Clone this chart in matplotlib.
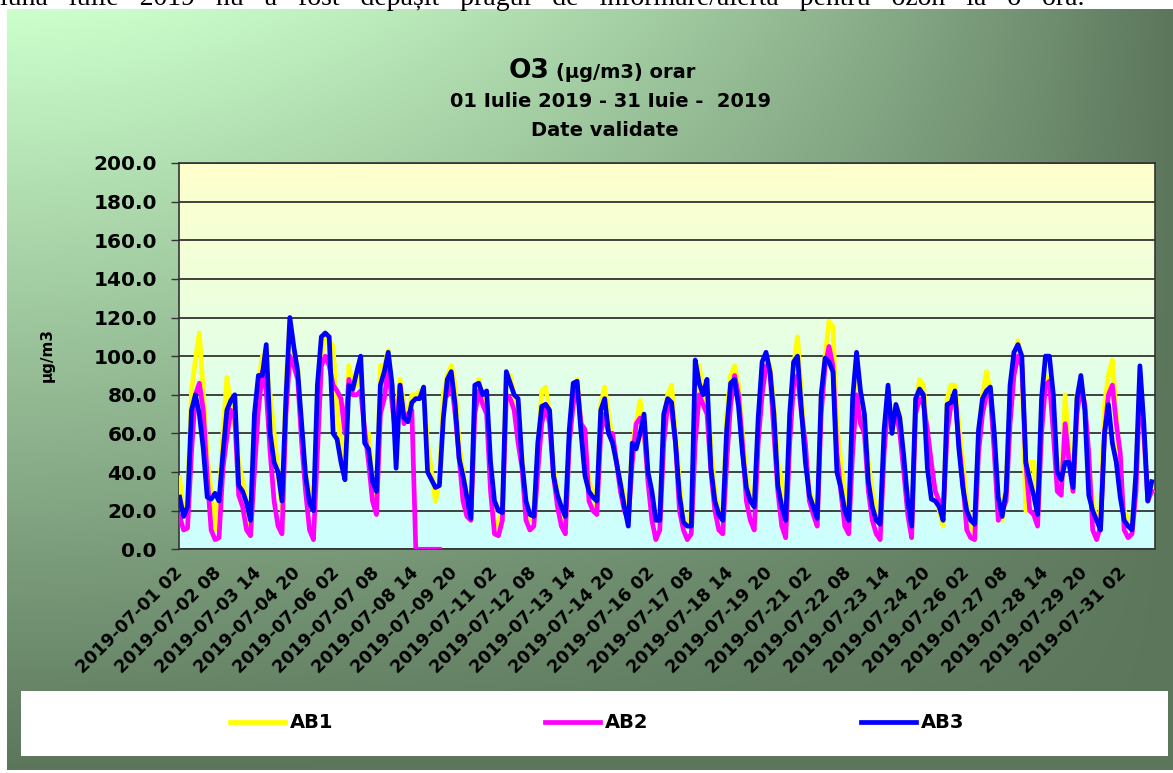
import numpy as np
import matplotlib.pyplot as plt
from matplotlib.colors import LinearSegmentedColormap, to_rgb
from matplotlib.patches import Rectangle

plt.rcParams['font.family'] = ['DejaVu Sans']
plt.rcParams['font.weight'] = 'bold'

# valori O3 citite la fiecare 3 ore (ora 02, 05, 08, 11, 14, 17, 20, 23), cate un rand pe zi
ab1 = [37, 18, 25, 82, 98, 112, 82, 48,
       30, 10, 27, 60, 89, 74, 64, 45,
       36, 25, 12, 68, 85, 100, 95, 80,
       60, 40, 20, 85, 118, 100, 95, 60,
       40, 30, 20, 70, 100, 110, 108, 105,
       70, 55, 45, 95, 85, 85, 95, 60,
       60, 35, 22, 95, 95, 103, 80, 70,
       88, 75, 68, 80, 80, 82, 82, 55,
       40, 25, 35, 80, 90, 95, 85, 55,
       40, 28, 15, 80, 88, 78, 80, 40,
       10, 15, 20, 90, 90, 80, 65, 48,
       20, 15, 20, 50, 82, 84, 70, 42,
       30, 20, 10, 55, 80, 88, 65, 55,
       35, 30, 22, 75, 84, 70, 55, 45,
       35, 28, 20, 55, 65, 77, 60, 40,
       25, 15, 20, 65, 80, 85, 60, 35,
       15, 12, 20, 70, 95, 82, 75, 55,
       30, 20, 15, 70, 90, 95, 85, 60,
       38, 28, 25, 60, 90, 100, 95, 75,
       45, 35, 15, 60, 95, 110, 80, 50,
       30, 25, 18, 80, 100, 118, 115, 65,
       45, 30, 20, 75, 90, 80, 65, 45,
       30, 20, 15, 55, 80, 65, 75, 70,
       45, 25, 10, 75, 88, 85, 60, 40,
       30, 20, 12, 78, 85, 85, 65, 45,
       25, 12, 8, 60, 80, 92, 82, 55,
       20, 15, 35, 75, 95, 108, 95, 20,
       45, 45, 20, 75, 90, 85, 75, 35,
       28, 80, 50, 30, 80, 88, 75, 45,
       25, 15, 20, 75, 90, 98, 70, 30,
       20, 15, 12, 40, 90, 60, 28, 30]

ab2 = [17, 10, 11, 50, 80, 86, 72, 38,
       10, 5, 6, 42, 58, 72, 68, 28,
       22, 10, 7, 40, 72, 92, 82, 50,
       25, 12, 8, 70, 100, 95, 88, 55,
       30, 10, 5, 50, 95, 100, 95, 85,
       82, 78, 60, 88, 80, 80, 82, 62,
       45, 25, 18, 70, 78, 95, 75, 58,
       85, 65, 70, 72, 0, 0, 0, 0,
       0, 0, 0, np.nan, 80, 88, 70, 48,
       25, 17, 15, 70, 82, 75, 70, 30,
       8, 7, 15, 80, 78, 72, 55, 42,
       15, 10, 12, 40, 65, 75, 65, 38,
       22, 12, 8, 55, 75, 85, 65, 62,
       25, 20, 18, 60, 70, 60, 60, 45,
       30, 20, 15, 45, 65, 68, 62, 35,
       15, 5, 10, 55, 75, 72, 55, 20,
       10, 5, 8, 55, 80, 75, 70, 40,
       20, 10, 8, 45, 75, 90, 80, 55,
       25, 15, 10, 55, 80, 95, 92, 60,
       30, 12, 6, 55, 85, 90, 70, 55,
       25, 18, 12, 70, 95, 105, 95, 50,
       30, 12, 8, 50, 80, 65, 60, 30,
       15, 8, 5, 50, 75, 65, 72, 60,
       40, 18, 6, 70, 78, 75, 62, 45,
       30, 25, 18, 60, 75, 80, 55, 35,
       10, 6, 5, 50, 70, 80, 80, 50,
       15, 20, 25, 65, 90, 100, 95, 45,
       20, 18, 12, 60, 85, 87, 60, 30,
       28, 65, 45, 30, 70, 85, 75, 50,
       10, 5, 12, 60, 80, 85, 65, 50,
       10, 6, 8, 30, 85, 60, 25, 30]

ab3 = [27, 17, 22, 72, 80, 70, 52, 27,
       26, 29, 25, 50, 72, 77, 80, 33,
       30, 24, 15, 70, 90, 90, 106, 60,
       45, 40, 25, 78, 120, 105, 92, 65,
       38, 24, 20, 85, 110, 112, 110, 60,
       57, 45, 36, 85, 83, 92, 100, 55,
       52, 35, 30, 85, 92, 102, 85, 42,
       85, 68, 66, 76, 78, 78, 84, 40,
       36, 32, 33, 68, 88, 92, 75, 47,
       38, 27, 16, 85, 86, 80, 82, 45,
       25, 20, 19, 92, 86, 80, 78, 45,
       25, 18, 17, 55, 74, 75, 72, 38,
       28, 22, 17, 62, 86, 87, 60, 38,
       30, 27, 25, 72, 78, 60, 55, 45,
       34, 22, 12, 55, 52, 60, 70, 40,
       30, 15, 15, 70, 78, 76, 55, 28,
       14, 12, 12, 98, 86, 80, 88, 42,
       25, 18, 15, 62, 86, 88, 74, 50,
       32, 25, 22, 68, 97, 102, 92, 70,
       33, 22, 15, 70, 97, 100, 72, 45,
       28, 22, 16, 80, 99, 97, 92, 40,
       32, 20, 15, 78, 102, 82, 70, 35,
       22, 15, 13, 62, 85, 60, 75, 68,
       48, 25, 12, 78, 83, 80, 42, 26,
       25, 22, 15, 75, 76, 82, 52, 32,
       20, 15, 13, 62, 78, 82, 84, 60,
       27, 17, 30, 85, 102, 106, 100, 45,
       36, 28, 18, 78, 100, 100, 80, 40,
       36, 45, 45, 32, 78, 90, 72, 28,
       20, 15, 10, 60, 75, 55, 45, 27,
       15, 12, 10, 40, 95, 65, 25, 35]

tick_labels = ['2019-07-01 02', '2019-07-02 08', '2019-07-03 14', '2019-07-04 20',
               '2019-07-06 02', '2019-07-07 08', '2019-07-08 14', '2019-07-09 20',
               '2019-07-11 02', '2019-07-12 08', '2019-07-13 14', '2019-07-14 20',
               '2019-07-16 02', '2019-07-17 08', '2019-07-18 14', '2019-07-19 20',
               '2019-07-21 02', '2019-07-22 08', '2019-07-23 14', '2019-07-24 20',
               '2019-07-26 02', '2019-07-27 08', '2019-07-28 14', '2019-07-29 20',
               '2019-07-31 02']

n_ore = 744
ore = np.arange(0, n_ore, 3)
W, H = 1173, 773

fig = plt.figure(figsize=(W / 100, H / 100), dpi=100)
fig.patch.set_facecolor('white')

# fundal verde in degrade
bg = fig.add_axes([7 / W, 3 / H, 1166 / W, 761 / H], zorder=-5)
u = np.linspace(0, 1, 400)[None, :]
v = np.linspace(0, 1, 300)[:, None]
t = 1 - (1 - v) * (1 - u ** 1.7)
c0, c1 = np.array(to_rgb('#ccffcc')), np.array(to_rgb('#5c765c'))
img = c0 + (c1 - c0) * t[..., None]
bg.imshow(img, aspect='auto', extent=[0, 1, 0, 1])
bg.axis('off')

# randul de text din pagina, taiat de marginea de sus
fig.text(0.0, 1 - 5 / H,
         '   '.join('luna iulie 2019 nu a fost depășit pragul de informare/alertă pentru ozon la o oră.'.split()),
         family='Liberation Serif', weight='normal', fontsize=20, va='baseline', ha='left')

ax = fig.add_axes([179 / W, 1 - 549.3 / H, 976 / W, 386.3 / H])
grad = LinearSegmentedColormap.from_list('zona', ['#ffffcc', '#ccffff'])
ax.imshow(np.linspace(0, 1, 256)[:, None], cmap=grad, aspect='auto',
          extent=[-0.5, n_ore - 0.5, 0, 200], zorder=0)

ax.plot(ore, ab1, color='#ffff00', lw=3.4, label='AB1', zorder=3)
ax.plot(ore, ab2, color='#ff00ff', lw=3.4, label='AB2', zorder=4)
ax.plot(ore, ab3, color='#0000ff', lw=3.4, label='AB3', zorder=5)

ax.set_xlim(-0.5, n_ore - 0.5)
ax.set_ylim(0, 200)
ax.set_yticks(np.arange(0, 201, 20))
ax.set_yticklabels([f'{y:.1f}' for y in np.arange(0, 201, 20)], fontsize=14.5, fontweight='bold')
ax.set_xticks(np.arange(0, n_ore, 30))
ax.set_xticklabels(tick_labels, rotation=45, ha='right', va='center',
                   rotation_mode='anchor', fontsize=12.5, fontweight='bold')
ax.tick_params(axis='x', length=0, pad=15)
ax.tick_params(axis='y', length=6, width=1, color='#333333', pad=10)
ax.grid(axis='y', color='#333333', lw=1.3, zorder=1)
ax.set_axisbelow(False)
for s in ax.spines.values():
    s.set_color('#333333')
    s.set_linewidth(1.2)

fig.text(47 / W, 1 - 355 / H, 'µg/m3', rotation=90, ha='center', va='center',
         fontsize=11, fontweight='bold')

# titlu
fig.text(549 / W, 1 - 78 / H, 'O3', ha='right', va='baseline', fontsize=19, fontweight='bold')
fig.text(556 / W, 1 - 78 / H, '(µg/m3) orar', ha='left', va='baseline', fontsize=14, fontweight='bold')
fig.text(611 / W, 1 - 107 / H, '01 Iulie 2019 - 31 Iuie -  2019', ha='center', va='baseline',
         fontsize=14, fontweight='bold')
fig.text(605 / W, 1 - 136 / H, 'Date validate', ha='center', va='baseline',
         fontsize=14, fontweight='bold')

# legenda
fig.add_artist(Rectangle((21 / W, 1 - 756 / H), 1147 / W, 65 / H, transform=fig.transFigure,
                         facecolor='white', edgecolor='none', zorder=1))
h, l = ax.get_legend_handles_labels()
fig.legend(h, l, loc='center', bbox_to_anchor=(597 / W, 1 - 723 / H), ncol=3, frameon=False,
           handlelength=2.83, handletextpad=0.26, columnspacing=10.9,
           prop={'size': 14, 'weight': 'bold'})

fig.savefig('out.png', dpi=100)
